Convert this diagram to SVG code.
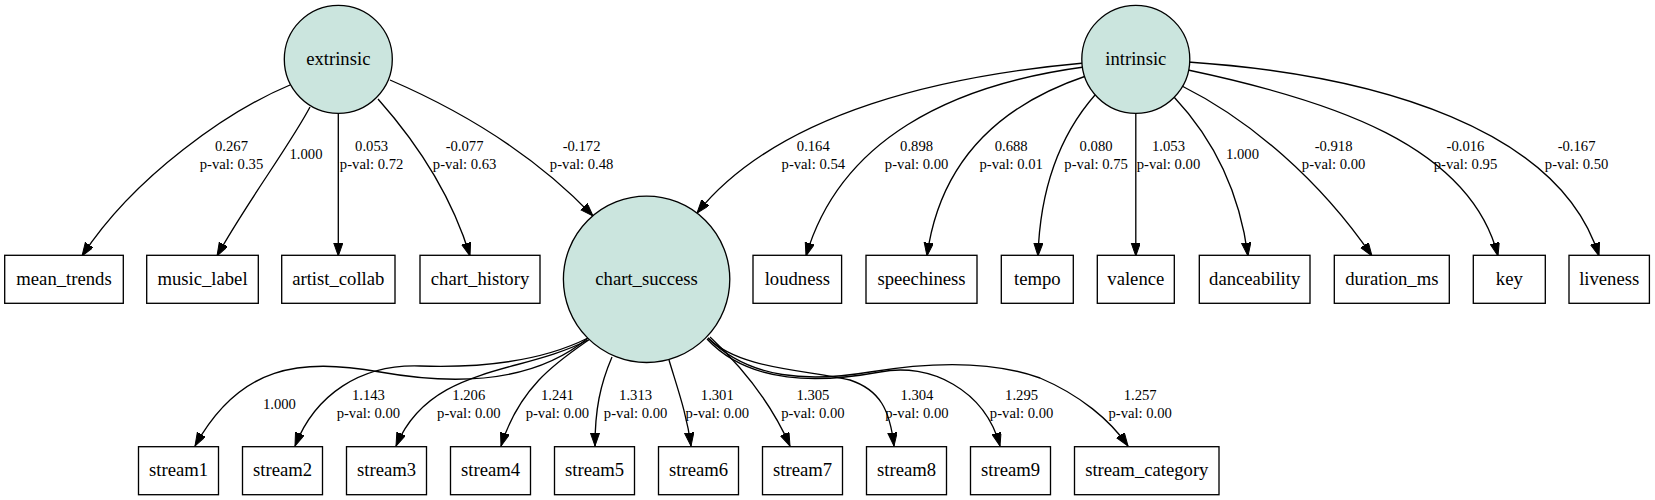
<svg xmlns="http://www.w3.org/2000/svg" width="1655" height="500" viewBox="0 0 1655 500">
<defs>
<marker id="arr" markerUnits="userSpaceOnUse" markerWidth="14" markerHeight="10" refX="13.3" refY="4.67" orient="auto">
<polygon points="0,0 13.3,4.67 0,9.33" fill="#000" stroke="#000" stroke-width="1"/>
</marker>
<style>
.lat{fill:#cbe5de;stroke:#000;stroke-width:1.33}
.obs{fill:#fff;stroke:#000;stroke-width:1.33}
.nl{font-family:"Liberation Serif","Times New Roman",serif;font-size:18.67px;text-anchor:middle;fill:#000}
.el{font-family:"Liberation Serif","Times New Roman",serif;font-size:14.67px;text-anchor:middle;fill:#000}
.e{fill:none;stroke:#000;stroke-width:1.33;marker-end:url(#arr)}
</style>
</defs>
<rect width="1655" height="500" fill="#fff"/>
<g id="connectors">
<path class="e" d="M290,85 C230,110 135,175 82,256"/>
<path class="e" d="M310,107 C290,145 245,205 217,256"/>
<path class="e" d="M338.3,113 L338.3,256"/>
<path class="e" d="M378,99 C410,135 450,190 470,256"/>
<path class="e" d="M390,80 C455,108 530,150 593,216"/>
<path class="e" d="M1084,63 C950,75 780,110 697,213"/>
<path class="e" d="M1084,67 C950,85 840,140 806,256"/>
<path class="e" d="M1086,76 C1000,105 940,160 927,256"/>
<path class="e" d="M1095,95 C1060,135 1040,190 1038,256"/>
<path class="e" d="M1135.8,113 L1135.8,256"/>
<path class="e" d="M1174,97 C1205,130 1238,180 1248,256"/>
<path class="e" d="M1182,86 C1250,120 1320,180 1372,256"/>
<path class="e" d="M1188,70 C1330,100 1470,145 1498,256"/>
<path class="e" d="M1188,62 C1380,75 1560,130 1599,256"/>
<path class="e" d="M588,338 C540,378 470,388 380,372 C300,358 240,365 195,446"/>
<path class="e" d="M588,338 C540,362 480,368 420,366 C360,364 315,395 295,446"/>
<path class="e" d="M588,340 C520,375 430,365 396,446"/>
<path class="e" d="M590,339 C560,360 520,385 501,446"/>
<path class="e" d="M612,357 C600,385 595,410 595,446"/>
<path class="e" d="M669,360 C678,390 687,415 691,446"/>
<path class="e" d="M710,337 C740,365 770,400 790,446"/>
<path class="e" d="M708,338 C740,370 810,370 850,380 C880,390 890,410 894,446"/>
<path class="e" d="M707,339 C750,385 820,383 880,372 C930,362 985,390 1000,446"/>
<path class="e" d="M708,338 C750,380 810,382 870,372 C930,362 990,360 1040,378 C1080,395 1110,420 1128,446"/>
</g>
<g id="edge-labels">
<text class="el" x="231.5" y="150.7">0.267</text><text class="el" x="231.5" y="169">p-val: 0.35</text>
<text class="el" x="306" y="159.3">1.000</text>
<text class="el" x="371.6" y="150.7">0.053</text><text class="el" x="371.6" y="169">p-val: 0.72</text>
<text class="el" x="464.6" y="150.7">-0.077</text><text class="el" x="464.6" y="169">p-val: 0.63</text>
<text class="el" x="581.6" y="150.7">-0.172</text><text class="el" x="581.6" y="169">p-val: 0.48</text>
<text class="el" x="813.3" y="150.7">0.164</text><text class="el" x="813.3" y="169">p-val: 0.54</text>
<text class="el" x="916.6" y="150.7">0.898</text><text class="el" x="916.6" y="169">p-val: 0.00</text>
<text class="el" x="1011.2" y="150.7">0.688</text><text class="el" x="1011.2" y="169">p-val: 0.01</text>
<text class="el" x="1096.1" y="150.7">0.080</text><text class="el" x="1096.1" y="169">p-val: 0.75</text>
<text class="el" x="1168.5" y="150.7">1.053</text><text class="el" x="1168.5" y="169">p-val: 0.00</text>
<text class="el" x="1242.5" y="159.3">1.000</text>
<text class="el" x="1333.6" y="150.7">-0.918</text><text class="el" x="1333.6" y="169">p-val: 0.00</text>
<text class="el" x="1465.5" y="150.7">-0.016</text><text class="el" x="1465.5" y="169">p-val: 0.95</text>
<text class="el" x="1576.6" y="150.7">-0.167</text><text class="el" x="1576.6" y="169">p-val: 0.50</text>
<text class="el" x="279.4" y="409">1.000</text>
<text class="el" x="368.4" y="400">1.143</text><text class="el" x="368.4" y="418.3">p-val: 0.00</text>
<text class="el" x="468.8" y="400">1.206</text><text class="el" x="468.8" y="418.3">p-val: 0.00</text>
<text class="el" x="557.4" y="400">1.241</text><text class="el" x="557.4" y="418.3">p-val: 0.00</text>
<text class="el" x="635.6" y="400">1.313</text><text class="el" x="635.6" y="418.3">p-val: 0.00</text>
<text class="el" x="717.3" y="400">1.301</text><text class="el" x="717.3" y="418.3">p-val: 0.00</text>
<text class="el" x="812.9" y="400">1.305</text><text class="el" x="812.9" y="418.3">p-val: 0.00</text>
<text class="el" x="916.9" y="400">1.304</text><text class="el" x="916.9" y="418.3">p-val: 0.00</text>
<text class="el" x="1021.6" y="400">1.295</text><text class="el" x="1021.6" y="418.3">p-val: 0.00</text>
<text class="el" x="1140.2" y="400">1.257</text><text class="el" x="1140.2" y="418.3">p-val: 0.00</text>
</g>
<g id="extrinsic"><circle class="lat" cx="338.3" cy="59.3" r="54"/><text class="nl" x="338.3" y="64.9">extrinsic</text></g>
<g id="intrinsic"><circle class="lat" cx="1135.8" cy="59.3" r="54"/><text class="nl" x="1135.8" y="64.9">intrinsic</text></g>
<g id="chart_success"><circle class="lat" cx="646.6" cy="279.3" r="83.2"/><text class="nl" x="646.6" y="284.9">chart_success</text></g>
<g id="mean_trends"><rect class="obs" x="4.7" y="255.3" width="118.6" height="48"/><text class="nl" x="64" y="284.9">mean_trends</text></g>
<g id="music_label"><rect class="obs" x="146.7" y="255.3" width="111.6" height="48"/><text class="nl" x="202.5" y="284.9">music_label</text></g>
<g id="artist_collab"><rect class="obs" x="281.7" y="255.3" width="113.3" height="48"/><text class="nl" x="338.3" y="284.9">artist_collab</text></g>
<g id="chart_history"><rect class="obs" x="420" y="255.3" width="120" height="48"/><text class="nl" x="480" y="284.9">chart_history</text></g>
<g id="loudness"><rect class="obs" x="753" y="255.3" width="88.6" height="48"/><text class="nl" x="797.3" y="284.9">loudness</text></g>
<g id="speechiness"><rect class="obs" x="866" y="255.3" width="111" height="48"/><text class="nl" x="921.5" y="284.9">speechiness</text></g>
<g id="tempo"><rect class="obs" x="1001.3" y="255.3" width="72" height="48"/><text class="nl" x="1037.3" y="284.9">tempo</text></g>
<g id="valence"><rect class="obs" x="1097.3" y="255.3" width="77" height="48"/><text class="nl" x="1135.8" y="284.9">valence</text></g>
<g id="danceability"><rect class="obs" x="1199.3" y="255.3" width="110.7" height="48"/><text class="nl" x="1254.7" y="284.9">danceability</text></g>
<g id="duration_ms"><rect class="obs" x="1334.3" y="255.3" width="115" height="48"/><text class="nl" x="1391.8" y="284.9">duration_ms</text></g>
<g id="key"><rect class="obs" x="1473.3" y="255.3" width="72" height="48"/><text class="nl" x="1509.3" y="284.9">key</text></g>
<g id="liveness"><rect class="obs" x="1569" y="255.3" width="80.4" height="48"/><text class="nl" x="1609.2" y="284.9">liveness</text></g>
<g id="stream1"><rect class="obs" x="138.5" y="446.7" width="80" height="48"/><text class="nl" x="178.5" y="476.3">stream1</text></g>
<g id="stream2"><rect class="obs" x="242.5" y="446.7" width="80" height="48"/><text class="nl" x="282.5" y="476.3">stream2</text></g>
<g id="stream3"><rect class="obs" x="346.5" y="446.7" width="80" height="48"/><text class="nl" x="386.5" y="476.3">stream3</text></g>
<g id="stream4"><rect class="obs" x="450.5" y="446.7" width="80" height="48"/><text class="nl" x="490.5" y="476.3">stream4</text></g>
<g id="stream5"><rect class="obs" x="554.5" y="446.7" width="80" height="48"/><text class="nl" x="594.5" y="476.3">stream5</text></g>
<g id="stream6"><rect class="obs" x="658.5" y="446.7" width="80" height="48"/><text class="nl" x="698.5" y="476.3">stream6</text></g>
<g id="stream7"><rect class="obs" x="762.5" y="446.7" width="80" height="48"/><text class="nl" x="802.5" y="476.3">stream7</text></g>
<g id="stream8"><rect class="obs" x="866.5" y="446.7" width="80" height="48"/><text class="nl" x="906.5" y="476.3">stream8</text></g>
<g id="stream9"><rect class="obs" x="970.5" y="446.7" width="80" height="48"/><text class="nl" x="1010.5" y="476.3">stream9</text></g>
<g id="stream_category"><rect class="obs" x="1074.5" y="446.7" width="144.5" height="48"/><text class="nl" x="1146.8" y="476.3">stream_category</text></g>
</svg>
